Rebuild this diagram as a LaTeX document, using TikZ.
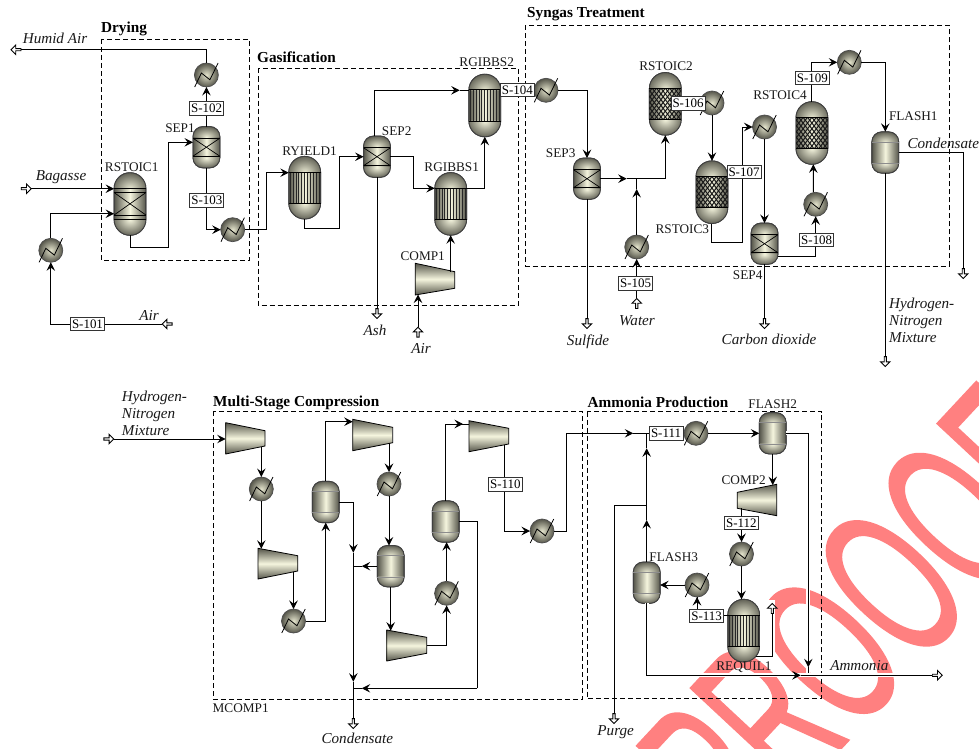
\documentclass[tikz,border=0pt]{standalone}
\usepackage{fontspec}
\usepackage{graphicx}
\setmainfont{Liberation Serif}
\newfontfamily\wmfont[AutoFakeBold=1.0]{Liberation Sans}
\usetikzlibrary{arrows.meta,calc,shapes.arrows}
\definecolor{wmpink}{HTML}{FF8080}
\definecolor{tdark}{HTML}{55554A}
\definecolor{tmid}{HTML}{A8A890}
\definecolor{tlite}{HTML}{F5F5DE}
\definecolor{hlite}{HTML}{E4E4CC}
\tikzset{
  x=1bp,y=-1bp,
  flowline/.style={line width=.95bp,black},
  flow/.style={flowline,-{Stealth[length=8.5bp,width=8.5bp,inset=3.2bp]}},
  halo/.style={preaction={draw=white,line width=4bp,-}},
  area/.style={draw=black,line width=.85bp,dash pattern=on 5bp off 3bp},
  tankbody/.style={draw=black!75,line width=.9bp,inner sep=0pt,outer sep=0pt,left color=tdark,right color=tdark,middle color=tlite},
  tankline/.style={draw=black!75,line width=.9bp},
  hxbody/.style={circle,draw=black!70,line width=.7bp,minimum size=24bp,inner sep=0pt,outer sep=0pt,inner color=hlite,outer color=tdark},
  hxline/.style={line width=.8bp,black},
  ghost/.style={inner sep=0pt,outer sep=0pt},
  sbox/.style={draw=black!80,line width=1bp,fill=white,inner sep=0pt,minimum width=34bp,minimum height=13.5bp,font=\fontsize{13}{13}\selectfont},
  lab/.style={inner sep=0pt,font=\fontsize{13.3}{13.3}\selectfont,text=black!90},
  ital/.style={inner sep=0pt,font=\fontsize{15.2}{17}\selectfont\itshape,text=black!90},
  head/.style={inner sep=0pt,anchor=west,font=\fontsize{15.3}{15}\selectfont\bfseries},
  port/.style={single arrow,draw=black,fill=white,line width=.9bp,inner sep=0pt,outer sep=0pt,minimum height=10bp,minimum width=9.5bp,single arrow head extend=1.5bp,single arrow head indent=0pt},
}
\newcommand{\tank}[6]{%
  \node[tankbody,minimum width=#4bp,minimum height=#5bp,rounded corners=#6bp] (#1) at (#2,#3) {};
  \begin{scope}
    \clip[rounded corners=#6bp] (#1.south west) rectangle (#1.north east);
    \begin{scope}
      \clip (#1.north west) rectangle ([yshift=-#6bp]#1.north east);
      \shade[inner color=tlite!85!tmid,outer color=tdark] ([yshift=-#6bp]#1.north) ellipse[x radius=#4*.62,y radius=#6*1.1];
    \end{scope}
    \begin{scope}
      \clip (#1.south west) rectangle ([yshift=#6bp]#1.south east);
      \shade[inner color=tlite,outer color=tdark] ([yshift=#6bp]#1.south) ellipse[x radius=#4*.62,y radius=#6*1.1];
    \end{scope}
  \end{scope}
  \draw[tankline,rounded corners=#6bp] (#1.south west) rectangle (#1.north east);
}
% flash drum
\newcommand{\flashdrum}[3]{%
  \tank{#1}{#2}{#3}{26.8}{41.3}{10}
  \draw[black!45,line width=.5bp] ([yshift=-10bp]#1.north west) -- ([yshift=-10bp]#1.north east);
  \draw[black!45,line width=.5bp] ([yshift=10bp]#1.south west) -- ([yshift=10bp]#1.south east);
}
% separator
\newcommand{\sepunit}[3]{%
  \tank{#1}{#2}{#3}{26.8}{41.3}{10}
  \draw[black,line width=.9bp] ([yshift=-11.7bp]#1.north west) -- ([yshift=-11.7bp]#1.north east);
  \draw[black,line width=.9bp] ([yshift=11.7bp]#1.south west) -- ([yshift=11.7bp]#1.south east);
  \draw[black,line width=.7bp] ([yshift=-11.7bp]#1.north west) -- ([yshift=11.7bp]#1.south east);
  \draw[black,line width=.7bp] ([yshift=-11.7bp]#1.north east) -- ([yshift=11.7bp]#1.south west);
}
% tube-bundle reactor
\newcommand{\tubereactor}[3]{%
  \tank{#1}{#2}{#3}{31.8}{62.6}{15.9}
  \begin{scope}[shift={(#2,#3)}]
    \foreach \i in {0,...,10} \draw[black!85,line width=.9bp] ({-14.5+\i*2.9},-15.6) -- ({-14.5+\i*2.9},15.6);
    \draw[black,line width=1bp] (-15.9,-15.6) -- (15.9,-15.6);
    \draw[black,line width=1bp] (-15.9,15.6) -- (15.9,15.6);
  \end{scope}
}
% packed (catalyst) reactor
\newcommand{\packedreactor}[3]{%
  \tank{#1}{#2}{#3}{31.8}{62.6}{15.9}
  \begin{scope}[shift={(#2,#3)}]
    \begin{scope}
      \clip (-15.9,-15.7) rectangle (15.9,15.7);
      \foreach \i in {-10,...,10} {
        \draw[black!90,line width=1bp] ({\i*4.4},-15.7) -- ({\i*4.4+24},15.7);
        \draw[black!90,line width=1bp] ({\i*4.4},-15.7) -- ({\i*4.4-24},15.7);
      }
    \end{scope}
    \draw[black,line width=1bp] (-15.9,-15.7) -- (15.9,-15.7);
    \draw[black,line width=1bp] (-15.9,15.7) -- (15.9,15.7);
  \end{scope}
}
% heat exchanger
\newcommand{\hx}[3]{%
  \node[hxbody] (#1) at (#2,#3) {};
  \begin{scope}[shift={(#2,#3)}]
    \draw[hxline] (-11.7,12) -- (-5,-2) -- (3.5,4.8) -- (11.7,-12);
  \end{scope}
}
% compressor: name, left x, right x, left top, left bottom, right top, right bottom
\newcommand{\compressor}[7]{%
  \node[ghost,minimum width=1bp,minimum height=1bp] (#1) at ({(#2+#3)/2},{(#4+#5)/2}) {};
  \shade[top color=tdark,bottom color=tdark,middle color=tlite,draw=black,line width=.8bp] (#2,#4) -- (#3,#6) -- (#3,#7) -- (#2,#5) -- cycle;
}
\begin{document}
\begin{tikzpicture}
\useasboundingbox (0,0) rectangle (979,749);
\fill[white] (0,0) rectangle (979,749);
% watermark
\begin{scope}
  \clip (0,0) rectangle (979,749);
  \node[inner sep=0pt,rotate=47,text=wmpink] (wm) at (860.1,617.1) {\scalebox{.54}[1]{\wmfont\bfseries\fontsize{220}{220}\selectfont PROOOF}};
\end{scope}
% process areas
\draw[area] (101.7,39) rectangle (249.3,260.5);
\draw[area] (258,68.5) rectangle (518.4,305);
\draw[area] (525.3,25.3) rectangle (949,266);
\draw[area] (213.2,411.2) rectangle (582.7,699.2);
\draw[area] (587.4,411.5) rectangle (821.7,698.8);
\node[head] (tDry) at (101,29) {Drying};
\node[head] (tGas) at (257,57) {Gasification};
\node[head] (tSyn) at (527,14) {Syngas Treatment};
\node[head] (tMul) at (213,402.5) {Multi-Stage Compression};
\node[head] (tAmm) at (587.5,402) {Ammonia Production};
\node[lab,anchor=west] (tMc) at (212.5,708) {MCOMP1};
% equipment
\hx{hxA}{206.4}{75}
\hx{hxB}{232.7}{229.7}
\hx{hxC}{50.8}{250.3}
\hx{hxD}{546}{90.3}
\hx{hxE}{636.7}{247}
\hx{hxF}{712}{103}
\hx{hxG}{764.5}{127}
\hx{hxH}{815.7}{204.3}
\hx{hxI}{849.3}{62.3}
\hx{hxJ}{261.3}{489}
\hx{hxK}{293.5}{621}
\hx{hxL}{389}{484}
\hx{hxM}{446.6}{593.3}
\hx{hxN}{542}{531}
\hx{hxO}{696}{433.3}
\hx{hxP}{741.5}{554}
\hx{hxQ}{697}{585}
\sepunit{SEPa}{206.4}{147.2}
\sepunit{SEPb}{377}{156.7}
\sepunit{SEPc}{587}{178.7}
\sepunit{SEPd}{764.5}{243.7}
\flashdrum{FLa}{885.3}{152.5}
\flashdrum{FLb}{772.7}{433.3}
\flashdrum{FLc}{646.7}{582.7}
\flashdrum{FLd}{325.7}{502}
\flashdrum{FLe}{390.7}{566.2}
\flashdrum{FLf}{445.7}{521.5}
% RSTOIC1
\tank{RSa}{130}{204}{31.8}{62.6}{15.9}
\begin{scope}[shift={(130,204)}]
  \draw[black,line width=.9bp] (-15.9,-15.7) -- (15.9,-15.7);
  \draw[black,line width=.9bp] (-15.9,-11.4) -- (15.9,-11.4);
  \draw[black,line width=.9bp] (-15.9,11) -- (15.9,11);
  \draw[black,line width=.9bp] (-15.9,15.3) -- (15.9,15.3);
  \draw[black,line width=.7bp] (-15.9,-11.4) -- (15.9,11);
  \draw[black,line width=.7bp] (15.9,-11.4) -- (-15.9,11);
\end{scope}
\tubereactor{RY}{304.7}{187.7}
\tubereactor{RGa}{450.7}{203.9}
\tubereactor{RGb}{484.8}{105.5}
\tubereactor{RQ}{743.7}{630.6}
\packedreactor{RSb}{665.3}{103.85}
\packedreactor{RSc}{711.9}{192.2}
\packedreactor{RSd}{811.9}{133}
\compressor{CPa}{415.3}{454.7}{263.3}{295}{271.7}{288.3}
\compressor{CPb}{225.7}{265}{422.7}{454}{430.7}{446}
\compressor{CPc}{258}{297.7}{548.3}{579}{555.7}{571}
\compressor{CPd}{352.7}{392.7}{419.3}{450.7}{427.3}{442.7}
\compressor{CPe}{386.7}{426.7}{630}{661}{637.3}{653.3}
\compressor{CPf}{469}{508.7}{420.7}{451.7}{428.3}{444}
\compressor{CPg}{776.7}{737.3}{484.3}{515.7}{492.3}{508.3}
% ports
\node[port,rotate=180] (pHum) at (16.5,49.7) {};
\node[port] (pBag) at (25.7,188.7) {};
\node[port,rotate=180] (pAir) at (167.7,324) {};
\node[port,rotate=-90] (pAsh) at (377,313) {};
\node[port,rotate=90] (pAirb) at (418,332.7) {};
\node[port,rotate=-90] (pSul) at (587,323) {};
\node[port,rotate=90] (pWat) at (636.7,304) {};
\node[port,rotate=-90] (pCO) at (764.5,323) {};
\node[port,rotate=-90] (pCond) at (963.3,273) {};
\node[port,rotate=-90] (pMix) at (885.3,361) {};
\node[port] (pFeed) at (108.3,439) {};
\node[port,rotate=-90] (pCondb) at (353.3,723) {};
\node[port,rotate=-90] (pPur) at (614,718) {};
\node[port] (pAmm) at (936.7,675.3) {};
% free points on streams where an arrowhead sits midway
\coordinate (mRGb) at (459.7,90.3);
\coordinate (mSEP) at (626.7,178.7);
\coordinate (mWat) at (636.7,189);
\coordinate (mCa) at (353.3,552.7);
\coordinate (mCb) at (353.3,681.7);
\coordinate (mFLe) at (361.7,566.2);
\coordinate (mFLf) at (361.7,688.3);
\coordinate (mCPf) at (463,424);
\coordinate (mFeedb) at (633.3,433.3);
\coordinate (mFLb) at (808.3,667.3);
\coordinate (mFLca) at (646.7,520);
\coordinate (mFLcb) at (646.7,448.3);
\coordinate (mAmm) at (800.7,675.3);
% streams, top
\draw[flow] (pAir.tip) -| (hxC.south);
\draw[flow] (hxC.north) |- (RSa.west |- 0,213.7);
\draw[flow] (pBag.tip) -- (RSa.west |- pBag.tip);
\draw[flow] (RSa.south) |- (168.3,247.3) -- (168.3,142.3) -- (SEPa.west |- 0,142.3);
\draw[flow] (SEPa.north) -- (hxA.south);
\draw[flowline] (hxA.north) |- (pHum.tail);
\draw[flow] (SEPa.south) |- (hxB.west);
\draw[flow] (hxB.east) -- (266,229.7) -- (266,172.7) -- (RY.west |- 0,172.7);
\draw[flow] (RY.south) |- (339,228) -- (339,156.7) -- (SEPb.west);
\draw[flow] ([xshift=-2.3bp]SEPb.north) |- (mRGb);
\draw[flowline] (mRGb) -- (RGb.west |- mRGb);
\draw[flow] (SEPb.east) -- (413.3,156.7) -- (413.3,188.3) -- (RGa.west |- 0,188.3);
\draw[flow] (RGa.east |- 0,188.3) -- (RGb.south |- 0,188.3) -- (RGb.south);
\draw[flow] (450.7,271.7) -- (RGa.south);
\draw[flow] (pAirb.tip) -- (418,294.5);
\draw[flowline] (SEPb.south) -- (pAsh.tail);
\draw[flowline] (RGb.east |- hxD.west) -- (hxD.west);
\draw[flow] (hxD.east) -| (SEPc.north);
\draw[flow] (SEPc.east) -- (mSEP);
\draw[flowline] (mSEP) -- (RSb.south |- mSEP);
\draw[flow] (RSb.south |- mSEP) -- (RSb.south);
\draw[flow] (pWat.tip) -- (hxE.south);
\draw[flow] (hxE.north) -- (mWat);
\draw[flowline] (mWat) -- (mWat |- mSEP);
\draw[flowline] (SEPc.south) -- (pSul.tail);
\draw[flowline] (RSb.east |- hxF.west) -- (hxF.west);
\draw[flow] (hxF.south) -- (hxF.south |- RSc.north);
\draw[flow] (RSc.south) |- (742.7,242) -- (742.7,127) -- (hxG.west);
\draw[flow] (hxG.south) -- (SEPd.north);
\draw[flowline] (SEPd.south) -- (pCO.tail);
\draw[flow] (SEPd.east |- 0,256.7) -| (hxH.south);
\draw[flow] ([xshift=-2.4bp]hxH.north) -- ([xshift=1.4bp]RSd.south);
\draw[flow] (RSd.north) |- (hxI.west);
\draw[flow] (hxI.east) -| (FLa.north);
\draw[flowline] (FLa.east) -| (pCond.tail);
\draw[flowline] (FLa.south) -- (pMix.tail);
% streams, bottom
\draw[flow] (pFeed.tip) -- (225.7,439);
\draw[flow] (261.3,446.8) -- (hxJ.north);
\draw[flow] (hxJ.south) -- (261.3,548.8);
\draw[flow] (293.5,571.5) -- (hxK.north);
\draw[flow] (hxK.east) -| (FLd.south);
\draw[flow] (FLd.north) |- (352.7,421.7);
\draw[flow] (389,443.3) -- (hxL.north);
\draw[flow] (hxL.south) -- (hxL.south |- FLe.north);
\draw[flow] (FLd.east) -| (mCa);
\draw[flow] (mCa) -- (mCb);
\draw[flowline] (mCb) -- (pCondb.tail);
\draw[flow] (FLe.west) -- (mFLe);
\draw[flowline] (mFLe) -- (mCa |- mFLe);
\draw[flow] (FLe.south) -- (390.7,630.7);
\draw[flow] (426.7,645) -| (hxM.south);
\draw[flow] (hxM.north) -- (hxM.north |- FLf.south);
\draw[flowline] (FLf.north) |- (mCPf);
\draw[flow] (FLf.north |- mCPf) -- (mCPf);
\draw[flowline] (mCPf) -- (469,424);
\draw[flow] (504.7,444.7) |- (hxN.west);
\draw[flow] (hxN.east) -- (566,531) -- (566,433.3) -- (mFeedb);
\draw[flowline] (mFeedb) -- (hxO.west);
\draw[flowline] (FLf.east) -- (477.3,521.5) -- (477.3,688.3);
\draw[flow] (477.3,688.3) -- (mFLf);
\draw[flowline] (mFLf) -- (mCa |- mFLf);
\draw[flow] (hxO.east) -- (FLb.west);
\draw[flow,halo] (FLb.east) -| (mFLb);
\draw[flowline,halo] (mFLb) -- (mFLb |- mAmm);
\draw[flow] (FLb.south) -- (772.7,485.1);
\draw[flow] (741.5,508.3) -- (hxP.north);
\draw[flow] (hxP.south) -- (hxP.south |- RQ.north);
\fill[white] (759.9,600) rectangle (775,662);
\node[port,rotate=90] (pReq) at (772.3,609) {};
\draw[flowline] ($(RQ.center)+(11.9,26.1)$) -| (pReq.tail);
\draw[flowline] (RQ.west |- 0,615.5) -| (hxQ.south);
\draw[flow] (hxQ.south |- 0,605) -- (hxQ.south);
\draw[flow] (hxQ.west) -- (FLc.east |- hxQ.west);
\draw[flow] (FLc.north) -- (mFLca);
\draw[flow] (mFLca) -- (mFLcb);
\draw[flowline] (mFLcb) -- (mFLcb |- hxO.west);
\draw[flowline] (mFLca |- 0,505.3) -| (pPur.tail);
\draw[flow,halo] (FLc.south) |- (mAmm);
\draw[flowline,halo] (mAmm) -- (pAmm.tail);
% stream labels
\node[sbox] (sa) at (87.5,324) {S-101};
\node[sbox] (sb) at (206.7,108.7) {S-102};
\node[sbox] (sc) at (206.9,200.3) {S-103};
\node[sbox] (sd) at (517.3,90) {S-104};
\node[sbox] (se) at (635.7,283.7) {S-105};
\node[sbox] (sf) at (688,103.3) {S-106};
\node[sbox] (sg) at (744,172) {S-107};
\node[sbox] (sh) at (816.7,240) {S-108};
\node[sbox] (si) at (812.3,78) {S-109};
\node[sbox] (sj) at (505.3,484.3) {S-110};
\node[sbox] (sk) at (666,433.3) {S-111};
\node[sbox] (sl) at (741.3,523) {S-112};
\node[sbox] (sm) at (706.7,616) {S-113};
% equipment labels
\node[lab] (lA) at (131.7,166.7) {RSTOIC1};
\node[lab] (lB) at (180,128.3) {SEP1};
\node[lab] (lC) at (309.5,151) {RYIELD1};
\node[lab] (lD) at (396.7,130.7) {SEP2};
\node[lab] (lE) at (451.7,167.3) {RGIBBS1};
\node[lab] (lF) at (486.7,62.3) {RGIBBS2};
\node[lab] (lG) at (422.7,256) {COMP1};
\node[lab] (lH) at (560.7,152.7) {SEP3};
\node[lab] (lI) at (666,66.5) {RSTOIC2};
\node[lab] (lJ) at (682.3,229.3) {RSTOIC3};
\node[lab] (lK) at (780,95) {RSTOIC4};
\node[lab] (lL) at (747.7,275) {SEP4};
\node[lab] (lM) at (913.3,116) {FLASH1};
\node[lab] (lN) at (772.7,404.3) {FLASH2};
\node[lab] (lO) at (743.7,480.3) {COMP2};
\node[lab] (lP) at (673.7,556.7) {FLASH3};
\node[lab] (lQ) at (744,667.3) {REQUIL1};
% stream end labels
\node[ital] (iA) at (55,38.3) {Humid Air};
\node[ital] (iB) at (61,177) {Bagasse};
\node[ital] (iC) at (149,315) {Air};
\node[ital] (iD) at (375,330.7) {Ash};
\node[ital] (iE) at (421,348.7) {Air};
\node[ital] (iF) at (588,342) {Sulfide};
\node[ital] (iG) at (637,320.7) {Water};
\node[ital] (iH) at (769,339) {Carbon dioxide};
\node[ital] (iI) at (943.3,143.3) {Condensate};
\node[ital,anchor=west,align=left] (iJ) at (889,320.5) {Hydrogen-\\Nitrogen\\Mixture};
\node[ital,anchor=west,align=left] (iK) at (121.7,413) {Hydrogen-\\Nitrogen\\Mixture};
\node[ital] (iL) at (357.3,738.7) {Condensate};
\node[ital] (iM) at (615.7,732) {Purge};
\node[ital] (iN) at (859.3,665.3) {Ammonia};
\end{tikzpicture}
\end{document}
